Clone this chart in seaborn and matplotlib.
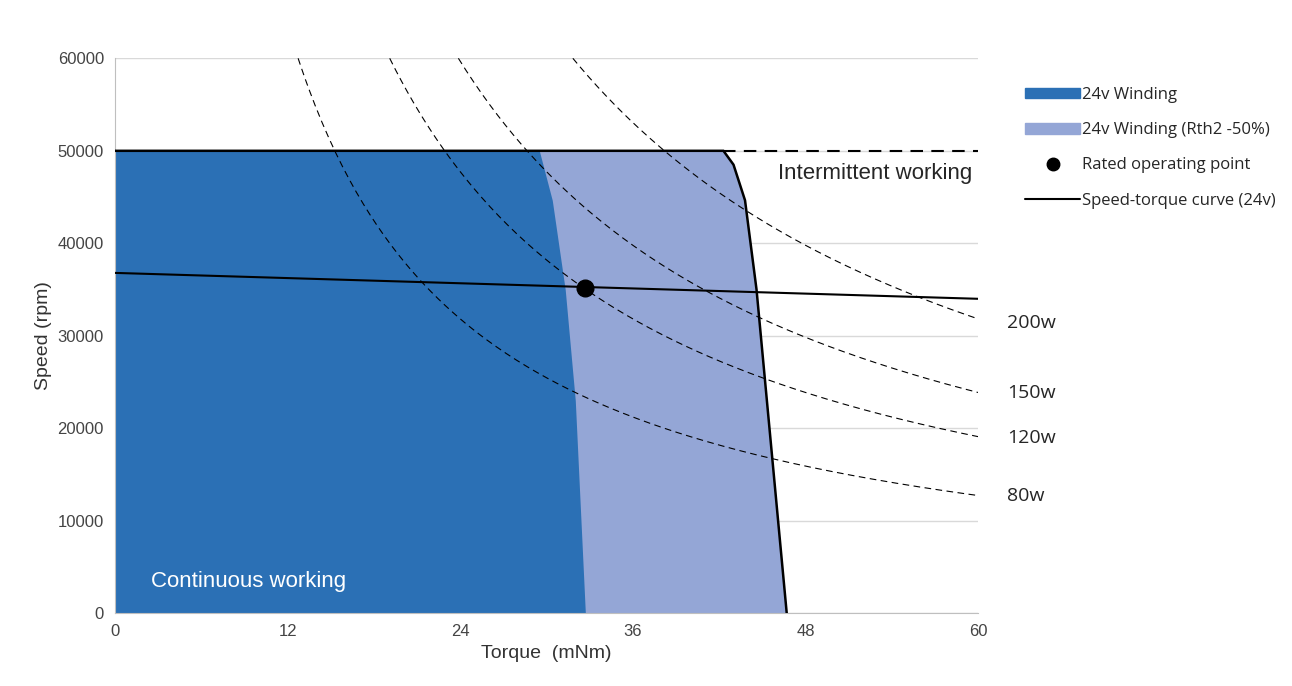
import numpy as np
import matplotlib.pyplot as plt
import seaborn as sns
from matplotlib.patches import Patch
from matplotlib.lines import Line2D

sns.set_style('white')
plt.rcParams['font.family'] = 'Liberation Sans'

# boundary of the continuous (24v winding) region: torque, speed
cont_t = [0, 29.5, 30.4, 31.3, 32.0, 32.7]
cont_n = [50000, 50000, 44650, 35000, 23000, 0]
# boundary of the Rth2 -50% region
int_t = [0, 42.3, 43.0, 43.8, 44.6, 45.5, 46.7]
int_n = [50000, 50000, 48500, 44650, 35000, 20000, 0]
# speed-torque curve
st_t = [0, 60]
st_n = [36800, 34000]
rated_t, rated_n = 32.7, 35200
powers = [80, 120, 150, 200]
power_labels = ['80w', '120w', '150w', '200w']
label_y = [12700, 19000, 23800, 31400]

dark = '#2b70b5'
light = '#94a6d6'

fig = plt.figure(figsize=(12.92, 6.86), dpi=100)
ax = fig.add_axes([0.089, 0.106, 0.668, 0.809])

ax.fill_betweenx(int_n, 0, int_t, color=light, lw=0, zorder=1)
ax.fill_betweenx(cont_n, 0, cont_t, color=dark, lw=0, zorder=2)
ax.plot(int_t, int_n, color='black', lw=1.8, zorder=4)
ax.plot([42.3, 60], [50000, 50000], color='black', lw=1.5, ls=(0, (6, 4)), zorder=4)

for p in powers:
    tt = np.linspace(p * 60000 / (2 * np.pi * 60000), 60, 200)
    ax.plot(tt, p * 60000 / (2 * np.pi * tt), color='black', lw=0.8,
            ls=(0, (6, 4)), zorder=3)

ax.plot(st_t, st_n, color='black', lw=1.5, zorder=5)
ax.plot(rated_t, rated_n, 'o', color='black', ms=12, zorder=6)

for lab, y in zip(power_labels, label_y):
    ax.text(62, y, lab, fontsize=14, fontfamily='Open Sans', va='center',
            ha='left', clip_on=False)
ax.text(59.6, 47500, 'Intermittent working', fontsize=16, ha='right', va='center', zorder=7)
ax.text(2.5, 3400, 'Continuous working', fontsize=16, color='white', ha='left', va='center', zorder=7)

ax.set_xlim(0, 60)
ax.set_ylim(0, 60000)
ax.set_xticks([0, 12, 24, 36, 48, 60])
ax.set_yticks(range(0, 60001, 10000))
ax.tick_params(labelsize=12, colors='#444444', length=0, pad=8)
ax.yaxis.grid(True, color='#d9d9d9', lw=1)
ax.set_axisbelow(True)
for s in ['top', 'right']:
    ax.spines[s].set_visible(False)
for s in ['left', 'bottom']:
    ax.spines[s].set_color('#bfbfbf')
ax.set_xlabel('Torque  (mNm)', fontsize=14, color='#333333')
ax.set_ylabel('Speed (rpm)', fontsize=14, color='#333333')

handles = [Patch(color=dark), Patch(color=light),
           Line2D([], [], marker='o', color='black', ls='none', ms=9),
           Line2D([], [], color='black', lw=1.5)]
labels = ['24v Winding', '24v Winding (Rth2 -50%)', 'Rated operating point',
          'Speed-torque curve (24v)']
fig.legend(handles, labels, loc='upper left', bbox_to_anchor=(0.782, 0.895),
           frameon=False, prop={'family': 'Open Sans', 'size': 12},
           labelspacing=1.15, handlelength=3.3, handleheight=0.6, handletextpad=0.1)

plt.savefig('out.png', dpi=100)
